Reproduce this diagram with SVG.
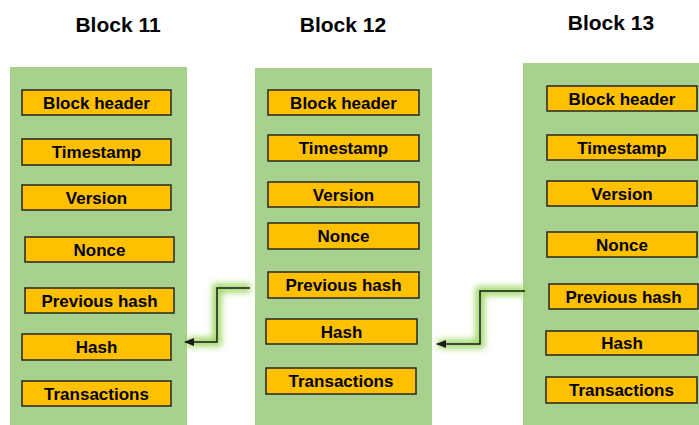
<svg xmlns="http://www.w3.org/2000/svg" width="699" height="425" viewBox="0 0 699 425">
<style>
.panel{fill:#A9D18E}
.box{fill:#FFC000;stroke:#262626;stroke-width:1.5}
.lbl{font-family:"Liberation Sans",Arial,sans-serif;font-weight:bold;font-size:17px;fill:#000;text-anchor:middle}
.title{font-family:"Liberation Sans",Arial,sans-serif;font-weight:bold;font-size:21px;fill:#000;text-anchor:middle}
.glow{fill:none;stroke:#92D050;stroke-width:9;opacity:0.85;filter:url(#blur)}
.conn{fill:none;stroke:#1a1a1a;stroke-width:1.5}
</style>
<defs>
<filter id="blur" x="-20%" y="-20%" width="140%" height="140%"><feGaussianBlur stdDeviation="3"/></filter>
<marker id="arr" markerWidth="10" markerHeight="8" refX="9" refY="4" orient="auto" markerUnits="userSpaceOnUse">
<path d="M0,0 L10,4 L0,8 Z" fill="#1a1a1a"/>
</marker>
</defs>
<rect width="699" height="425" fill="#fff"/>
<g id="block11">
<text class="title" x="118" y="32">Block 11</text>
<rect class="panel" x="10" y="67" width="177" height="358"/>
<rect class="box" x="22" y="90" width="149" height="25"/><text class="lbl" x="96.5" y="108.5">Block header</text>
<rect class="box" x="22" y="139" width="149" height="26"/><text class="lbl" x="96.5" y="158">Timestamp</text>
<rect class="box" x="22" y="185" width="149" height="25"/><text class="lbl" x="96.5" y="203.5">Version</text>
<rect class="box" x="25" y="237" width="149" height="25"/><text class="lbl" x="99.5" y="255.5">Nonce</text>
<rect class="box" x="25" y="288" width="149" height="25"/><text class="lbl" x="99.5" y="306.5">Previous hash</text>
<rect class="box" x="22" y="334" width="149" height="26"/><text class="lbl" x="96.5" y="353">Hash</text>
<rect class="box" x="22" y="381" width="149" height="25"/><text class="lbl" x="96.5" y="399.5">Transactions</text>
</g>
<g id="block12">
<text class="title" x="343" y="32">Block 12</text>
<rect class="panel" x="255" y="68" width="177" height="357"/>
<rect class="box" x="268" y="90" width="151" height="25"/><text class="lbl" x="343.5" y="108.5">Block header</text>
<rect class="box" x="268" y="135" width="151" height="26"/><text class="lbl" x="343.5" y="154">Timestamp</text>
<rect class="box" x="268" y="182" width="151" height="25"/><text class="lbl" x="343.5" y="200.5">Version</text>
<rect class="box" x="268" y="223" width="151" height="26"/><text class="lbl" x="343.5" y="242">Nonce</text>
<rect class="box" x="268" y="272" width="151" height="26"/><text class="lbl" x="343.5" y="291">Previous hash</text>
<rect class="box" x="266" y="319" width="151" height="25"/><text class="lbl" x="341.5" y="337.5">Hash</text>
<rect class="box" x="266" y="368" width="150" height="26"/><text class="lbl" x="341" y="387">Transactions</text>
</g>
<g id="block13">
<text class="title" x="611" y="30">Block 13</text>
<rect class="panel" x="523" y="63" width="176" height="362"/>
<rect class="box" x="547" y="86" width="150" height="25"/><text class="lbl" x="622" y="104.5">Block header</text>
<rect class="box" x="547" y="135" width="150" height="25"/><text class="lbl" x="622" y="153.5">Timestamp</text>
<rect class="box" x="547" y="181" width="150" height="25"/><text class="lbl" x="622" y="199.5">Version</text>
<rect class="box" x="547" y="232" width="150" height="25"/><text class="lbl" x="622" y="250.5">Nonce</text>
<rect class="box" x="549" y="284" width="149" height="25"/><text class="lbl" x="623.5" y="302.5">Previous hash</text>
<rect class="box" x="546" y="331" width="152" height="24"/><text class="lbl" x="622" y="349">Hash</text>
<rect class="box" x="546" y="377" width="151" height="26"/><text class="lbl" x="621.5" y="396">Transactions</text>
</g>
<g id="connectors">
<path class="glow" d="M250,288 H217 V342 H186"/>
<path class="conn" d="M250,288 H217 V342 H185" marker-end="url(#arr)"/>
<path class="glow" d="M525,291 H480 V344 H438"/>
<path class="conn" d="M525,291 H480 V344 H437" marker-end="url(#arr)"/>
</g>
</svg>
